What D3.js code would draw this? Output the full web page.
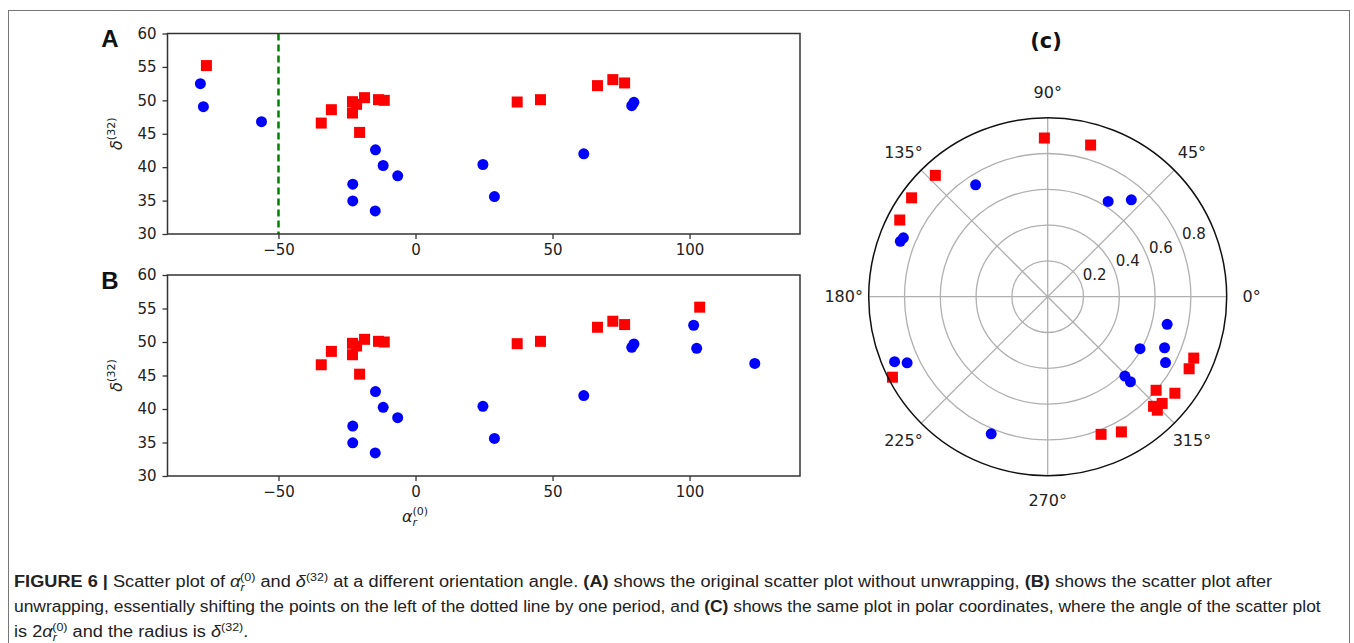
<!DOCTYPE html>
<html lang="en">
<head>
<meta charset="UTF-8">
<title>Figure 6 scatter and polar</title>
<script src="https://d3js.org/d3.v7.min.js"></script>
<style>
  body { margin: 0; background: #fff; }
  .tick text { font-family: "DejaVu Sans", sans-serif; font-size: 15px; fill: #222; }
  .tick line { stroke: #333; stroke-width: 1.3; }
  .domain { display: none; }
  .caption { font-family: "Liberation Sans Narrow", "Liberation Sans", Arial, sans-serif; font-size: 16px; fill: #222; }
</style>
</head>
<body>
<svg id="fig" width="1354" height="643"></svg>
<script>
// values: alpha_r^(0) (deg) and delta^(32)
const redAlpha  = [-76.3, -34.4, -30.7, -23.0, -21.5, -18.6, -23.0, -20.4, -13.5, -11.4, 37.1, 45.6, 66.4, 72.0, 76.3];
const redDelta  = [55.2, 46.6, 48.6, 49.8, 49.4, 50.4, 48.1, 45.2, 50.1, 50.0, 49.75, 50.1, 52.2, 53.1, 52.6];
const blueAlpha = [-78.5, -77.4, -56.2, -14.6, -11.8, -6.5, -22.9, -22.9, -14.7, 24.6, 28.8, 61.4, 78.9, 79.7];
const blueDelta = [52.5, 49.05, 46.8, 42.6, 40.25, 38.7, 37.45, 34.95, 33.45, 40.4, 35.6, 42.0, 49.2, 49.7];

const xTicks = [-50, 0, 50, 100];
const yTicks = [30, 35, 40, 45, 50, 55, 60];
const angleTicks = [0, 45, 90, 135, 180, 225, 270, 315];
const radialTicks = [0.2, 0.4, 0.6, 0.8];

const unwrapAt = -50;     // dashed line in A
const period = 180;
const radiusNorm = 56.5;  // delta divided by this gives the polar radius

const svg = d3.select("#fig");

// outer frame
svg.append("rect")
    .attr("x", 8.5).attr("y", 10.5)
    .attr("width", 1341).attr("height", 700)
    .attr("fill", "none").attr("stroke", "#777").attr("stroke-width", 1);

const toPoints = (al, de) => al.map((a, i) => ({a: a, d: de[i]}));
const red = toPoints(redAlpha, redDelta);
const blue = toPoints(blueAlpha, blueDelta);
const unwrap = p => ({a: p.a < unwrapAt ? p.a + period : p.a, d: p.d});

const x = d3.scaleLinear().domain([-90.5, 140.3]).range([167.5, 800]);

function scatterPanel(top, bottom, redPts, bluePts, letter, dashed) {
  const y = d3.scaleLinear().domain([30, 60]).range([bottom, top]);
  const g = svg.append("g");

  g.append("g")
      .attr("transform", "translate(0," + bottom + ")")
      .call(d3.axisBottom(x).tickValues(xTicks).tickSize(5).tickPadding(5)
        .tickFormat(d => d < 0 ? "\u2212" + Math.abs(d) : d));
  g.append("g")
      .attr("transform", "translate(167.5,0)")
      .call(d3.axisLeft(y).tickValues(yTicks).tickSize(5).tickPadding(6));

  if (dashed) {
    g.append("line")
        .attr("x1", x(unwrapAt)).attr("x2", x(unwrapAt))
        .attr("y1", top).attr("y2", bottom)
        .attr("stroke", "#008000").attr("stroke-width", 2.5)
        .attr("stroke-dasharray", "7,4");
  }

  g.selectAll(".blue").data(bluePts).join("circle")
      .attr("cx", d => x(d.a)).attr("cy", d => y(d.d))
      .attr("r", 5.5).attr("fill", "#0000ff");
  g.selectAll(".red").data(redPts).join("rect")
      .attr("x", d => x(d.a) - 5.5).attr("y", d => y(d.d) - 5.5)
      .attr("width", 11).attr("height", 11).attr("fill", "#ff0000");

  g.append("rect")
      .attr("x", 167.5).attr("y", top)
      .attr("width", 800 - 167.5).attr("height", bottom - top)
      .attr("fill", "none").attr("stroke", "#333").attr("stroke-width", 1.5);

  g.append("text")
      .attr("x", 110).attr("y", top + 13.5)
      .attr("text-anchor", "middle")
      .style("font-family", "Liberation Sans, Arial, sans-serif")
      .style("font-weight", "bold").style("font-size", "24px")
      .attr("fill", "#111").text(letter);

  // y label delta^(32)
  const yl = g.append("text")
      .attr("transform", "translate(122," + (top + bottom) / 2 + ") rotate(-90)")
      .attr("text-anchor", "middle")
      .style("font-family", "DejaVu Sans, sans-serif").style("font-size", "16px")
      .attr("fill", "#222");
  yl.append("tspan").style("font-style", "italic").text("\u03b4");
  yl.append("tspan").attr("dy", -7).style("font-size", "11px").text("(32)");
}

scatterPanel(33.5, 234, red, blue, "A", true);
scatterPanel(275, 476, red.map(unwrap), blue.map(unwrap), "B", false);

// x label alpha_r^(0)
const xl = svg.append("text")
    .attr("x", 415).attr("y", 522)
    .attr("text-anchor", "middle")
    .style("font-family", "DejaVu Sans, sans-serif").style("font-size", "16px")
    .attr("fill", "#222");
xl.append("tspan").style("font-style", "italic").text("\u03b1");
xl.append("tspan").attr("dy", 4).style("font-style", "italic").style("font-size", "11px").text("r");
xl.append("tspan").attr("dx", -4.5).attr("dy", -11).style("font-size", "11px").text("(0)");

// polar panel
const cx = 1047.7, cy = 296.7, R = 179;
const r = d3.scaleLinear().domain([0, 1]).range([0, R]);
const pol = svg.append("g").attr("transform", "translate(" + cx + "," + cy + ")");
const rad = deg => deg * Math.PI / 180;

pol.selectAll(".grid").data(radialTicks).join("circle")
    .attr("r", d => r(d)).attr("fill", "none")
    .attr("stroke", "#b0b0b0").attr("stroke-width", 1.3);
pol.selectAll(".spoke").data(angleTicks).join("line")
    .attr("x1", 0).attr("y1", 0)
    .attr("x2", d => R * Math.cos(rad(d))).attr("y2", d => -R * Math.sin(rad(d)))
    .attr("stroke", "#b0b0b0").attr("stroke-width", 1.3);

pol.selectAll(".rlab").data(radialTicks).join("text")
    .attr("x", d => r(d) * Math.cos(rad(22.5)) + 2)
    .attr("y", d => -r(d) * Math.sin(rad(22.5)) - 3)
    .style("font-family", "DejaVu Sans, sans-serif").style("font-size", "15px")
    .attr("fill", "#222").text(d => d);

pol.selectAll(".alab").data(angleTicks).join("text")
    .attr("x", d => 204 * Math.cos(rad(d)))
    .attr("y", d => -204 * Math.sin(rad(d)))
    .attr("text-anchor", "middle").attr("dominant-baseline", "central")
    .style("font-family", "DejaVu Sans, sans-serif").style("font-size", "16px")
    .attr("fill", "#222").text(d => d + "\u00b0");

const px = p => r(p.d / radiusNorm) * Math.cos(rad(2 * p.a));
const py = p => -r(p.d / radiusNorm) * Math.sin(rad(2 * p.a));

pol.selectAll(".pblue").data(blue).join("circle")
    .attr("cx", px).attr("cy", py).attr("r", 5.5).attr("fill", "#0000ff");
pol.selectAll(".pred").data(red).join("rect")
    .attr("x", d => px(d) - 5.5).attr("y", d => py(d) - 5.5)
    .attr("width", 11).attr("height", 11).attr("fill", "#ff0000");

pol.append("circle").attr("r", R).attr("fill", "none")
    .attr("stroke", "#111").attr("stroke-width", 1.5);

svg.append("text")
    .attr("x", 1046).attr("y", 48).attr("text-anchor", "middle")
    .style("font-family", "DejaVu Sans, sans-serif").style("font-weight", "bold")
    .style("font-size", "21px").attr("fill", "#111").text("(c)");

// caption
const lines = [
  [["b", "FIGURE 6 | "], ["n", "Scatter plot of "], ["alpha"], ["n", " and "], ["delta"],
   ["n", " at a different orientation angle. "], ["b", "(A)"],
   ["n", " shows the original scatter plot without unwrapping, "], ["b", "(B)"],
   ["n", " shows the scatter plot after"]],
  [["n", "unwrapping, essentially shifting the points on the left of the dotted line by one period, and "],
   ["b", "(C)"], ["n", " shows the same plot in polar coordinates, where the angle of the scatter plot"]],
  [["n", "is 2"], ["alpha"], ["n", " and the radius is "], ["delta"], ["n", "."]]
];
const baselines = [587, 612, 637];
const lineEnds = [1278, 1321, null];

const capTexts = lines.map((parts, i) => {
  const t = svg.append("text").attr("class", "caption").attr("x", 0).attr("y", 0)
      .attr("transform", "translate(14," + baselines[i] + ")");
  let back = 0; // vertical offset to undo on the next plain run
  parts.forEach(p => {
    if (p[0] === "alpha") {
      t.append("tspan").attr("dy", back).style("font-style", "italic").text("\u03b1");
      t.append("tspan").attr("dy", 4).style("font-style", "italic").style("font-size", "11px").text("r");
      t.append("tspan").attr("dx", -4).attr("dy", -10).style("font-size", "11px").text("(0)");
      back = 6;
    } else if (p[0] === "delta") {
      t.append("tspan").attr("dy", back).style("font-style", "italic").text("\u03b4");
      t.append("tspan").attr("dy", -6).style("font-size", "11px").text("(32)");
      back = 6;
    } else {
      t.append("tspan").attr("dy", back)
          .style("font-weight", p[0] === "b" ? "bold" : "normal").text(p[1]);
      back = 0;
    }
  });
  return t;
});

// squeeze each line horizontally to the width it has in the figure
const k1 = (lineEnds[0] - 14) / capTexts[0].node().getComputedTextLength();
capTexts.forEach((t, i) => {
  const k = lineEnds[i] ? (lineEnds[i] - 14) / t.node().getComputedTextLength() : k1;
  t.attr("transform", "translate(14," + baselines[i] + ") scale(" + k + ",1)");
});
</script>
</body>
</html>
